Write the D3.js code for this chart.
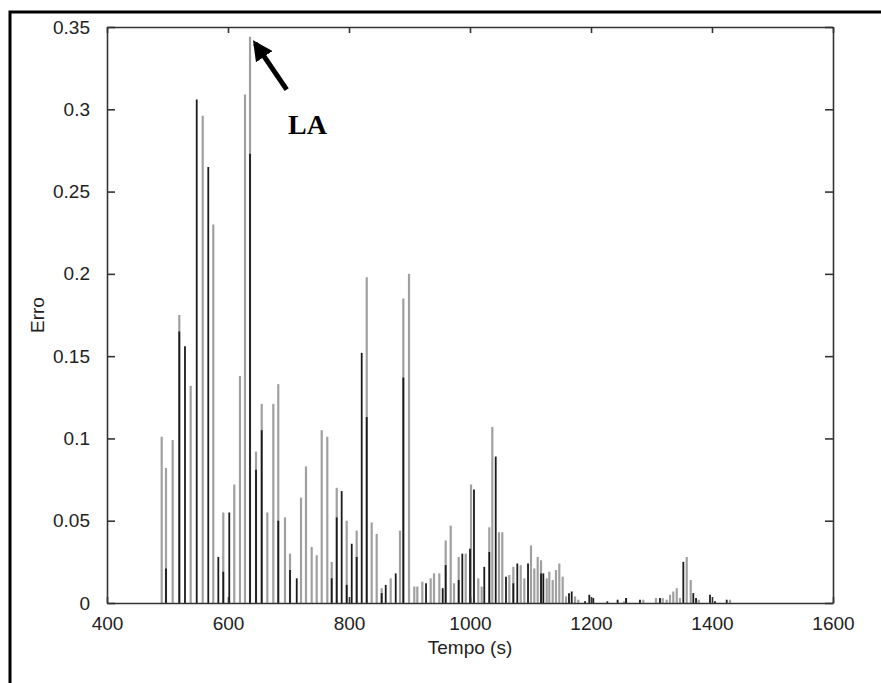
<html>
<head>
<style>
    body { margin: 0; background: #fff; }
</style>
</head>
<body>
    <svg id="container" width="881" height="683"></svg>
</body>
<script src="https://cdn.jsdelivr.net/npm/d3@7"></script>
<script>
    // serie cinza (tempo, erro)
    let tempoCinza = [490.4, 497.5, 508.6, 519.5, 538.3, 558.2, 575.7, 592.2, 610.4, 619.8, 628.1, 636.4, 646.3, 655.7, 665, 674.9, 683.1, 694.2, 702.5,
        720.7, 728.9, 738.3, 746.6, 754.9, 764.1, 771.4, 779.7, 796.2, 812.7, 829.3, 837.5, 845.8, 854, 868.9, 884.3, 889.8, 899.2, 907.9, 912.9, 921.2,
        935, 940.5, 949.3, 959.8, 968.1, 973.6, 981.3, 992.9, 1001.7, 1013.7, 1019.3, 1031.9, 1036.9, 1047.9, 1053.4, 1065, 1071.6, 1083.8, 1089.8,
        1100.8, 1106.3, 1111.9, 1117.4, 1126.8, 1131.1, 1136.7, 1142.1, 1147.6, 1153.2, 1158.7, 1173.6, 1179, 1254.5, 1258, 1286.4, 1307.4, 1318.5,
        1325.1, 1330.6, 1336, 1341.7, 1347.1, 1358.2, 1364.8, 1378, 1429.8]
    let erroCinza = [0.101, 0.082, 0.099, 0.175, 0.132, 0.296, 0.230, 0.055, 0.072, 0.138, 0.309, 0.344, 0.092, 0.121, 0.055, 0.121, 0.133, 0.052, 0.030,
        0.064, 0.083, 0.034, 0.029, 0.105, 0.101, 0.025, 0.070, 0.050, 0.044, 0.198, 0.049, 0.042, 0.009, 0.015, 0.044, 0.185, 0.200, 0.010, 0.010, 0.013,
        0.015, 0.018, 0.018, 0.038, 0.047, 0.012, 0.028, 0.030, 0.072, 0.015, 0.010, 0.046, 0.107, 0.043, 0.043, 0.017, 0.022, 0.023, 0.015,
        0.035, 0.021, 0.028, 0.026, 0.015, 0.019, 0.014, 0.020, 0.024, 0.016, 0.004, 0.004, 0.002, 0.001, 0.003, 0.002, 0.003, 0.003,
        0.002, 0.005, 0.007, 0.009, 0.003, 0.028, 0.014, 0.002, 0.002]

    // serie preta (tempo, erro)
    let tempoPreto = [497.5, 519.5, 528.9, 548.3, 567.4, 584, 592.2, 602.1, 636.4, 646.3, 655.7, 683.1, 702.5, 713.6, 771.4, 779.7, 787.9, 796.2,
        804.5, 812.7, 821, 829.3, 854, 860.7, 877.2, 889.8, 927.3, 954.9, 959.8, 981.3, 987.3, 1000, 1006.6, 1023.6, 1031.9, 1042.5, 1059.5, 1071.6,
        1078.2, 1095.9, 1117.4, 1121.2, 1163.6, 1168.1, 1190.1, 1197.2, 1203.8, 1227, 1244, 1258, 1281, 1314, 1352.6, 1369.1, 1373.6, 1396.7, 1405, 1424.3]
    let erroPreto = [0.021, 0.165, 0.156, 0.306, 0.265, 0.028, 0.019, 0.055, 0.273, 0.081, 0.105, 0.050, 0.020, 0.015, 0.015, 0.052, 0.068, 0.011,
        0.036, 0.028, 0.152, 0.113, 0.006, 0.011, 0.018, 0.137, 0.012, 0.009, 0.023, 0.014, 0.030, 0.033, 0.069, 0.022, 0.031, 0.089, 0.016, 0.012,
        0.024, 0.024, 0.018, 0.018, 0.006, 0.007, 0.001, 0.005, 0.003, 0.001, 0.002, 0.003, 0.002, 0.003, 0.025, 0.006, 0.003, 0.005, 0.001, 0.002]

    let xTicks = [400, 600, 800, 1000, 1200, 1400, 1600]
    let yTicks = [0, 0.05, 0.1, 0.15, 0.2, 0.25, 0.3, 0.35]

    // anotacao: seta da cauda ate a ponta (tempo, erro)
    let setaCauda = [697, 0.312]
    let setaPonta = [645, 0.340]

    let container = d3.select("#container")

    let mLeft = 107, mRight = 833, mTop = 27, mBottom = 603

    let x = d3.scaleLinear().domain([400, 1600]).range([mLeft, mRight])
    let y = d3.scaleLinear().domain([0, 0.35]).range([mBottom, mTop])

    // moldura externa
    container.append("rect")
        .attr("x", 10).attr("y", 12)
        .attr("width", 900).attr("height", 700)
        .attr("fill", "none")
        .attr("stroke", "#000")
        .attr("stroke-width", 3)

    function stems(tempos, erros, cor, largura) {
        container.append("g")
            .selectAll("line")
            .data(tempos.map((t, i) => ({ t: t, e: erros[i] })))
            .enter()
            .append("line")
            .attr("x1", d => x(d.t))
            .attr("x2", d => x(d.t))
            .attr("y1", y(0))
            .attr("y2", d => y(d.e))
            .attr("stroke", cor)
            .attr("stroke-width", largura)
    }

    stems(tempoCinza, erroCinza, "#a0a0a0", 2.2)
    stems(tempoPreto, erroPreto, "#1a1a1a", 1.8)

    // eixos (ticks para dentro, como no matlab)
    let fonte = "Liberation Sans, Arial, Helvetica, sans-serif"
    let axisBottom = d3.axisBottom(x).tickValues(xTicks).tickSize(-6).tickSizeOuter(0).tickPadding(14).tickFormat(d3.format("d"))
    let axisTop = d3.axisTop(x).tickValues(xTicks).tickSize(-6).tickSizeOuter(0).tickFormat("")
    let axisLeft = d3.axisLeft(y).tickValues(yTicks).tickSize(-8).tickSizeOuter(0).tickPadding(17).tickFormat(d => d === 0 ? "0" : String(d))
    let axisRight = d3.axisRight(y).tickValues(yTicks).tickSize(-8).tickSizeOuter(0).tickFormat("")

    function estilo(g) {
        g.select(".domain").attr("stroke", "#333").attr("stroke-width", 1.6)
        g.selectAll(".tick line").attr("stroke", "#333").attr("stroke-width", 1.6)
        g.selectAll("text").attr("font-family", fonte).attr("font-size", 19).attr("fill", "#222")
    }

    container.append("g").attr("transform", `translate(0,${mBottom})`).call(axisBottom).call(estilo)
    container.append("g").attr("transform", `translate(0,${mTop})`).call(axisTop).call(estilo)
    container.append("g").attr("transform", `translate(${mLeft},0)`).call(axisLeft).call(estilo)
    container.append("g").attr("transform", `translate(${mRight},0)`).call(axisRight).call(estilo)

    container.append("text")
        .attr("x", (mLeft + mRight) / 2)
        .attr("y", 654)
        .attr("text-anchor", "middle")
        .attr("font-family", fonte)
        .attr("font-size", 19)
        .attr("fill", "#222")
        .text("Tempo (s)")

    container.append("text")
        .attr("transform", `translate(44,${(mTop + mBottom) / 2}) rotate(-90)`)
        .attr("text-anchor", "middle")
        .attr("font-family", fonte)
        .attr("font-size", 19)
        .attr("fill", "#222")
        .text("Erro")

    // seta e rotulo LA
    container.append("defs").append("marker")
        .attr("id", "ponta")
        .attr("viewBox", "0 0 10 10")
        .attr("refX", 8).attr("refY", 5)
        .attr("markerWidth", 4).attr("markerHeight", 4)
        .attr("orient", "auto")
        .append("path").attr("d", "M0,0 L10,5 L0,10 z").attr("fill", "#000")

    container.append("line")
        .attr("x1", x(setaCauda[0])).attr("y1", y(setaCauda[1]))
        .attr("x2", x(setaPonta[0])).attr("y2", y(setaPonta[1]))
        .attr("stroke", "#000")
        .attr("stroke-width", 5)
        .attr("marker-end", "url(#ponta)")

    container.append("text")
        .attr("x", 288)
        .attr("y", 134)
        .attr("font-family", "Liberation Serif, Times New Roman, serif")
        .attr("font-weight", "bold")
        .attr("font-size", 28)
        .attr("fill", "#000")
        .text("LA")
</script>
</html>
